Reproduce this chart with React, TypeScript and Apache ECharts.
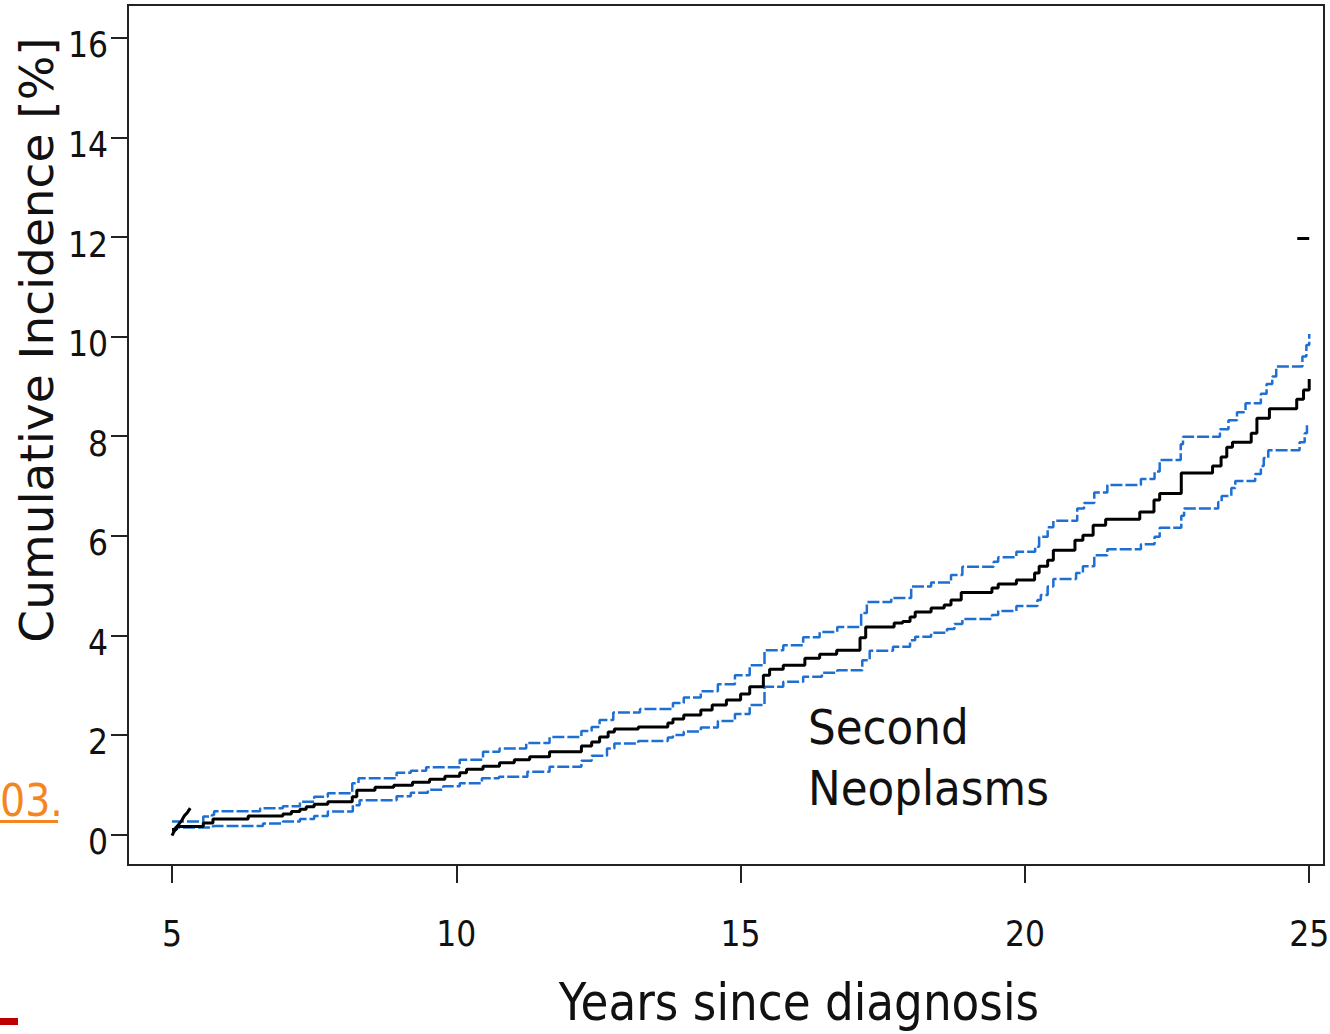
import React, { useEffect, useRef } from "react";
import * as echarts from "echarts";

// Tick positions
const xTicks = [5, 10, 15, 20, 25];
const yTicks = [0, 2, 4, 6, 8, 10, 12, 14, 16];

// Cumulative incidence of second neoplasms [%] by years since diagnosis (step estimate)
const incidence: [number, number][] = [
  [5.0, 0.1], [5.08, 0.16], [5.55, 0.23], [5.72, 0.31], [6.34, 0.37], [6.95, 0.41],
  [7.1, 0.46], [7.25, 0.51], [7.36, 0.56], [7.5, 0.61], [7.74, 0.66], [8.17, 0.76],
  [8.25, 0.89], [8.57, 0.95], [8.9, 0.99], [9.23, 1.05], [9.53, 1.11], [9.8, 1.17],
  [10.06, 1.24], [10.18, 1.31], [10.47, 1.37], [10.76, 1.44], [11.02, 1.5], [11.29, 1.56],
  [11.64, 1.66], [12.2, 1.78], [12.38, 1.86], [12.52, 1.96], [12.67, 2.06], [12.78, 2.12],
  [13.2, 2.16], [13.72, 2.24], [13.81, 2.32], [14.0, 2.4], [14.3, 2.5], [14.5, 2.6],
  [14.75, 2.7], [15.0, 2.82], [15.16, 2.97], [15.4, 3.2], [15.51, 3.32], [15.75, 3.4],
  [16.13, 3.54], [16.39, 3.62], [16.69, 3.7], [17.1, 3.95], [17.2, 4.17], [17.7, 4.25],
  [17.85, 4.28], [17.98, 4.37], [18.07, 4.47], [18.35, 4.55], [18.58, 4.61], [18.7, 4.71],
  [18.88, 4.86], [19.42, 4.95], [19.53, 5.03], [19.85, 5.11], [20.17, 5.25], [20.25, 5.39],
  [20.4, 5.51], [20.5, 5.71], [20.88, 5.91], [21.02, 6.01], [21.2, 6.21], [21.42, 6.33],
  [22.02, 6.48], [22.27, 6.72], [22.37, 6.85], [22.75, 7.26], [23.3, 7.4], [23.45, 7.58],
  [23.55, 7.78], [23.65, 7.88], [23.98, 8.06], [24.08, 8.36], [24.3, 8.55], [24.78, 8.74],
  [24.9, 8.93], [25.0, 9.15],
];

// Upper 95% confidence bound
const upperCI: [number, number][] = [
  [5.0, 0.26], [5.55, 0.36], [5.7, 0.39], [5.74, 0.47], [6.55, 0.53], [6.95, 0.57],
  [7.25, 0.66], [7.5, 0.76], [7.74, 0.83], [8.17, 1.03], [8.28, 1.13], [8.95, 1.24],
  [9.2, 1.28], [9.47, 1.35], [10.06, 1.5], [10.47, 1.66], [10.76, 1.73], [11.23, 1.84],
  [11.64, 1.96], [12.2, 2.08], [12.38, 2.16], [12.52, 2.3], [12.76, 2.45], [13.23, 2.52],
  [13.81, 2.64], [14.0, 2.75], [14.3, 2.88], [14.6, 3.02], [14.9, 3.2], [15.16, 3.4],
  [15.42, 3.7], [15.75, 3.8], [16.1, 3.96], [16.39, 4.07], [16.7, 4.17], [17.12, 4.45],
  [17.22, 4.67], [17.65, 4.75], [18.0, 4.98], [18.35, 5.06], [18.7, 5.21], [18.9, 5.38],
  [19.45, 5.48], [19.53, 5.57], [19.85, 5.68], [20.18, 5.78], [20.25, 5.98], [20.4, 6.17],
  [20.5, 6.3], [20.92, 6.55], [21.04, 6.66], [21.22, 6.87], [21.45, 7.02], [22.04, 7.14],
  [22.28, 7.29], [22.37, 7.52], [22.74, 7.84], [22.78, 7.99], [23.43, 8.14], [23.58, 8.32],
  [23.73, 8.48], [23.88, 8.66], [24.15, 8.85], [24.25, 9.05], [24.35, 9.2], [24.42, 9.4],
  [24.88, 9.6], [24.95, 9.83], [25.0, 10.05],
];

// Lower 95% confidence bound
const lowerCI: [number, number][] = [
  [5.0, 0.06], [5.05, 0.14], [5.72, 0.17], [6.6, 0.22], [6.95, 0.26], [7.25, 0.31],
  [7.5, 0.37], [7.74, 0.46], [8.18, 0.59], [8.3, 0.69], [8.95, 0.77], [9.2, 0.84],
  [9.5, 0.9], [9.77, 0.97], [10.06, 1.03], [10.45, 1.13], [10.75, 1.16], [11.25, 1.26],
  [11.64, 1.36], [12.2, 1.48], [12.38, 1.58], [12.65, 1.73], [12.78, 1.83], [13.2, 1.88],
  [13.72, 1.95], [13.81, 2.0], [14.0, 2.07], [14.3, 2.15], [14.6, 2.28], [14.9, 2.42],
  [15.16, 2.6], [15.42, 2.97], [15.75, 3.07], [16.1, 3.17], [16.43, 3.25], [16.7, 3.3],
  [17.14, 3.5], [17.27, 3.69], [17.68, 3.77], [17.98, 3.9], [18.07, 3.97], [18.35, 4.05],
  [18.63, 4.13], [18.76, 4.23], [18.9, 4.33], [19.42, 4.41], [19.53, 4.49], [19.85, 4.59],
  [20.22, 4.71], [20.28, 4.81], [20.4, 4.98], [20.5, 5.13], [20.9, 5.25], [21.02, 5.39],
  [21.22, 5.61], [21.45, 5.73], [22.04, 5.83], [22.28, 5.98], [22.37, 6.16], [22.75, 6.4],
  [22.8, 6.55], [23.4, 6.68], [23.46, 6.8], [23.63, 6.96], [23.7, 7.1], [24.05, 7.24],
  [24.15, 7.4], [24.2, 7.56], [24.28, 7.72], [24.83, 7.88], [24.92, 8.06], [24.96, 8.22],
];

// Short rising trace at the start of follow-up
const earlyTrace: [number, number][] = [
  [5.0, -0.02], [5.05, 0.1], [5.1, 0.18], [5.17, 0.28], [5.22, 0.38], [5.27, 0.44], [5.32, 0.53],
];

// Short black mark at 12 %
const mark12: [number, number][] = [[24.79, 11.97], [25.0, 11.97]];

const FONT = "'DejaVu Sans', Verdana, sans-serif";
const TICK_FONT = "'DejaVu Sans Condensed', 'DejaVu Sans', sans-serif";
const INK = "#111";
const AXIS = "#222";
const BLUE = "#1e6fd2";

export default function App() {
  const ref = useRef<HTMLDivElement>(null);

  useEffect(() => {
    if (!ref.current) return;
    const chart = echarts.init(ref.current, undefined, { renderer: "svg" });

    const ciStyle = { color: BLUE, width: 2.5, type: [12, 3] as number[] };

    chart.setOption({
      animation: false,
      backgroundColor: "#fff",
      grid: {
        left: 128,
        top: 5,
        right: 6,
        bottom: 169,
        show: true,
        borderColor: AXIS,
        borderWidth: 2,
        containLabel: false,
        outerBoundsMode: "none",
      },
      xAxis: {
        type: "value",
        min: 4.226,
        max: 25.26,
        axisLine: { show: true, onZero: false, lineStyle: { color: AXIS, width: 2 } },
        axisTick: { show: true, length: 18, customValues: xTicks, lineStyle: { color: AXIS, width: 2 } },
        axisLabel: { customValues: xTicks, margin: 51, fontSize: 35, color: INK, fontFamily: TICK_FONT },
        splitLine: { show: false },
      },
      yAxis: {
        type: "value",
        min: -0.612,
        max: 16.66,
        axisLine: { show: true, onZero: false, lineStyle: { color: AXIS, width: 2 } },
        axisTick: { show: true, length: 17, customValues: yTicks, lineStyle: { color: AXIS, width: 2 } },
        axisLabel: {
          customValues: yTicks,
          margin: 20,
          fontSize: 35,
          color: INK,
          fontFamily: TICK_FONT,
          verticalAlign: "top",
          lineHeight: 15,
        },
        splitLine: { show: false },
      },
      series: [
        {
          name: "Upper CI",
          type: "line",
          step: "end",
          data: upperCI,
          symbol: "none",
          lineStyle: ciStyle,
          z: 2,
        },
        {
          name: "Lower CI",
          type: "line",
          step: "end",
          data: lowerCI,
          symbol: "none",
          lineStyle: ciStyle,
          z: 2,
        },
        {
          name: "Second Neoplasms",
          type: "line",
          step: "end",
          data: incidence,
          symbol: "none",
          lineStyle: { color: "#000", width: 3 },
          z: 3,
        },
        {
          name: "Early trace",
          type: "line",
          data: earlyTrace,
          symbol: "none",
          lineStyle: { color: "#000", width: 3 },
          z: 3,
        },
        {
          name: "Mark 12",
          type: "line",
          data: mark12,
          symbol: "none",
          lineStyle: { color: "#000", width: 3 },
          z: 3,
        },
      ],
      graphic: [
        {
          type: "text",
          x: 36,
          y: 340,
          rotation: Math.PI / 2,
          style: {
            text: "Cumulative Incidence [%]",
            fontSize: 47,
            fontFamily: FONT,
            fill: INK,
            align: "center",
            verticalAlign: "middle",
          },
        },
        {
          type: "text",
          x: 799,
          y: 1002,
          scaleX: 0.872,
          style: {
            text: "Years since diagnosis",
            fontSize: 52,
            fontFamily: FONT,
            fill: INK,
            align: "center",
            verticalAlign: "middle",
          },
        },
        {
          type: "text",
          x: 808,
          y: 727,
          scaleX: 0.91,
          style: {
            text: "Second",
            fontSize: 48,
            fontFamily: FONT,
            fill: INK,
            align: "left",
            verticalAlign: "middle",
          },
        },
        {
          type: "text",
          x: 808,
          y: 788,
          scaleX: 0.91,
          style: {
            text: "Neoplasms",
            fontSize: 48,
            fontFamily: FONT,
            fill: INK,
            align: "left",
            verticalAlign: "middle",
          },
        },
        {
          type: "text",
          x: 0,
          y: 801,
          scaleX: 0.9,
          style: {
            text: "03.",
            fontSize: 44,
            fontFamily: FONT,
            fill: "#f5861f",
            align: "left",
            verticalAlign: "middle",
          },
        },
        {
          type: "rect",
          shape: { x: 0, y: 820, width: 58, height: 3 },
          style: { fill: "#f5861f" },
        },
        {
          type: "rect",
          shape: { x: 0, y: 1018, width: 18, height: 7 },
          style: { fill: "#c00000" },
        },
      ],
    });

    return () => chart.dispose();
  }, []);

  return (
    <div
      ref={ref}
      style={{ position: "absolute", left: 0, top: 0, width: 1330, height: 1034 }}
    />
  );
}
